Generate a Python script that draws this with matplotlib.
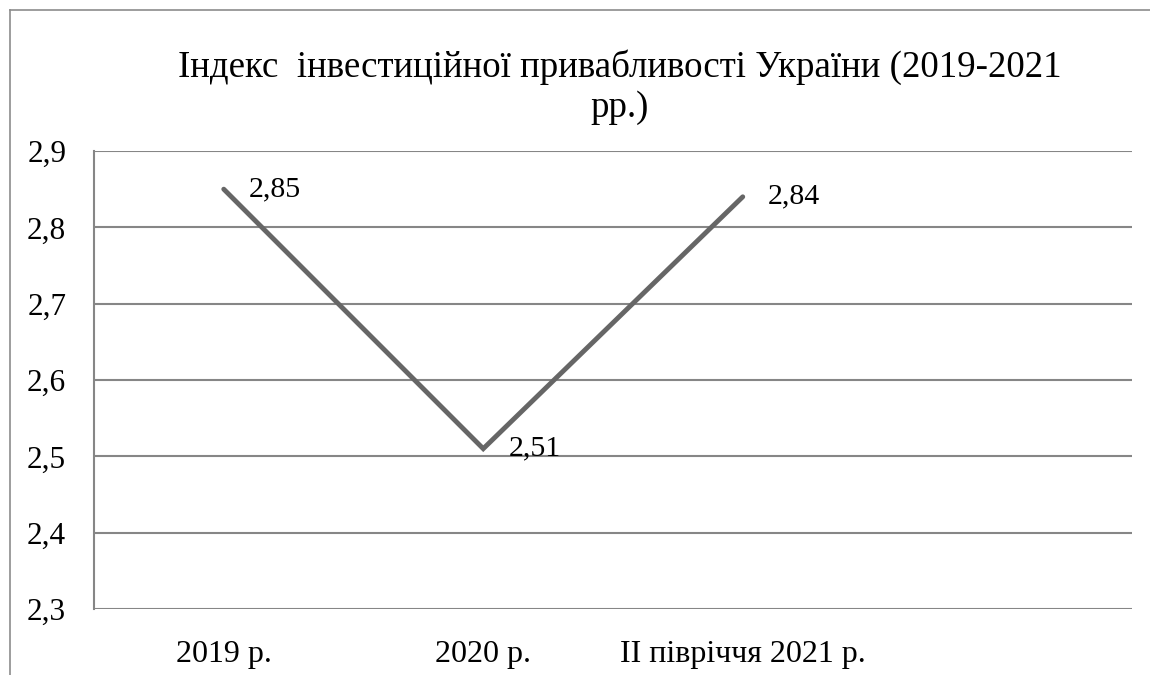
import matplotlib
matplotlib.use("Agg")
import matplotlib.pyplot as plt
from matplotlib.lines import Line2D

categories = ["2019 р.", "2020 р.", "II півріччя 2021 р.", ""]
values = [2.85, 2.51, 2.84]
yticks = [2.3, 2.4, 2.5, 2.6, 2.7, 2.8, 2.9]
title = "Індекс  інвестиційної привабливості України (2019-2021\nрр.)"

plt.rcParams['font.family'] = ['Liberation Serif', 'DejaVu Serif']

fig = plt.figure(figsize=(11.5, 6.75), dpi=100)
ax = fig.add_axes([94/1150, 1-609/675, (1132-94)/1150, (609-151)/675])

grid_c = "#868686"
x = list(range(len(values)))
ax.plot(x, values, color="#666666", lw=3.5, solid_joinstyle="miter",
        solid_capstyle="round", zorder=3)
for xi, v in zip(x, values):
    ax.annotate(f"{v:.2f}".replace(".", ","), (xi, v), xytext=(18, 0),
                textcoords="offset points", ha="left", va="center", fontsize=21.5)

ax.set_xlim(-0.5, len(categories) - 0.5)
ax.set_ylim(2.3, 2.9)
ax.set_yticks(yticks)
ax.set_yticklabels([f"{t:.1f}".replace(".", ",") for t in yticks], fontsize=22.5)
ax.set_xticks(range(len(categories)))
ax.set_xticklabels(categories, fontsize=23)
ax.tick_params(axis="both", length=0)
ax.tick_params(axis="y", pad=20)
ax.tick_params(axis="x", pad=22)
ax.yaxis.grid(True, color=grid_c, lw=1.5)
ax.set_axisbelow(True)
for s in ["top", "right", "bottom"]:
    ax.spines[s].set_visible(False)
ax.spines["left"].set_color(grid_c)
ax.spines["left"].set_linewidth(1.5)

fig.text(620/1150, 1-49/675, title, ha="center", va="top", fontsize=26.6,
         linespacing=1.2, multialignment="center")

# outer chart border (left and top visible)
fig.add_artist(Line2D([10/1150, 10/1150], [0, 1-10/675], transform=fig.transFigure,
                      color="#8c8c8c", lw=1.2))
fig.add_artist(Line2D([10/1150, 1], [1-10/675, 1-10/675], transform=fig.transFigure,
                      color="#8c8c8c", lw=1.2))

fig.savefig("out.png", dpi=100)
